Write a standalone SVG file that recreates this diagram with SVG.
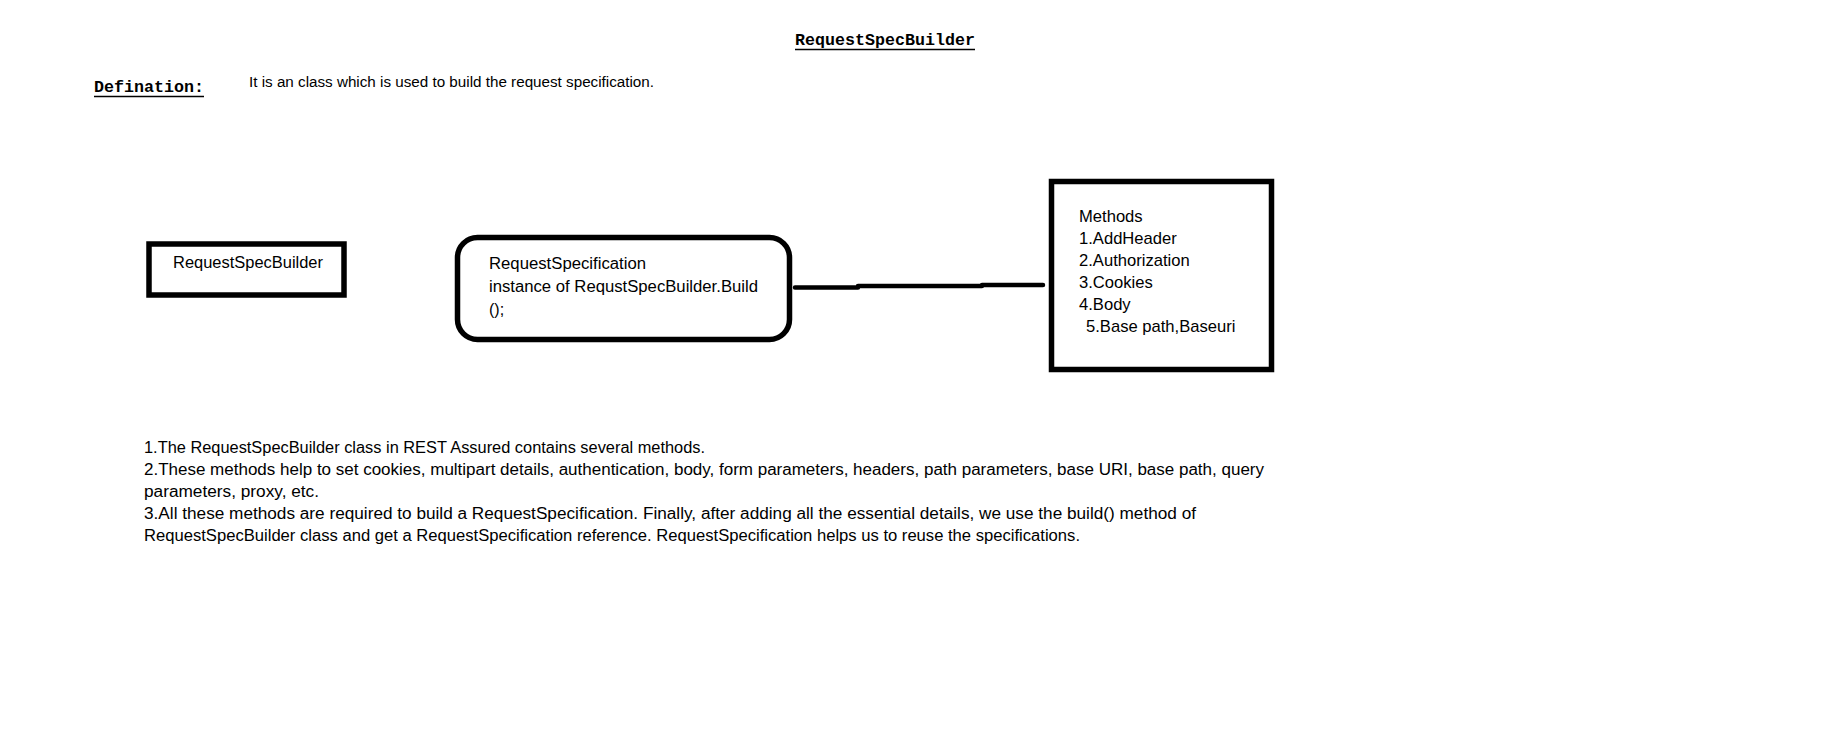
<svg xmlns="http://www.w3.org/2000/svg" width="1842" height="744" viewBox="0 0 1842 744">
<style>
.mono{font-family:"Liberation Mono","Courier New",monospace;font-weight:bold;font-size:16.7px;fill:#000}
.t{font-family:"Liberation Sans",Arial,sans-serif;font-size:16px;fill:#000}
.m{font-family:"Liberation Sans",Arial,sans-serif;font-size:16.6px;fill:#000}
.def{font-family:"Liberation Sans",Arial,sans-serif;font-size:14px;fill:#000}
.box{fill:#fff;stroke:#000;stroke-width:5.5}
.ul{stroke:#000;stroke-width:1.5}
.conn{fill:none;stroke:#000;stroke-width:4.5;stroke-linecap:round;stroke-linejoin:round}
</style>
<rect width="1842" height="744" fill="#fff"/>
<g id="title">
<text class="mono" x="795" y="45" textLength="180" lengthAdjust="spacingAndGlyphs">RequestSpecBuilder</text>
<line class="ul" x1="795" y1="49.5" x2="975" y2="49.5"/>
</g>
<g id="definition">
<text class="mono" x="94" y="92" textLength="110" lengthAdjust="spacingAndGlyphs">Defination:</text>
<line class="ul" x1="94" y1="96.5" x2="204" y2="96.5"/>
<text class="def" x="249" y="87" textLength="405" lengthAdjust="spacingAndGlyphs">It is an class which is used to build the request specification.</text>
</g>
<g id="connectors">
<path class="conn" d="M795,287.5 L858,287.5 L858,286 L982,286 L982,285 L1043,285"/>
</g>
<g id="node-builder">
<rect class="box" x="149" y="244" width="195" height="51"/>
<text class="t" x="173" y="268" textLength="150" lengthAdjust="spacingAndGlyphs">RequestSpecBuilder</text>
</g>
<g id="node-spec">
<rect class="box" x="457.5" y="237.5" width="332" height="102" rx="20" ry="20"/>
<text class="t" x="489" y="269" textLength="157" lengthAdjust="spacingAndGlyphs">RequestSpecification</text>
<text class="t" x="489" y="292" textLength="269" lengthAdjust="spacingAndGlyphs">instance of RequstSpecBuilder.Build</text>
<text class="t" x="489" y="315">();</text>
</g>
<g id="node-methods">
<rect class="box" x="1051.5" y="181.5" width="220" height="188"/>
<text class="m" x="1079" y="222">Methods</text>
<text class="m" x="1079" y="244">1.AddHeader</text>
<text class="m" x="1079" y="266">2.Authorization</text>
<text class="m" x="1079" y="288">3.Cookies</text>
<text class="m" x="1079" y="310">4.Body</text>
<text class="m" x="1086" y="332">5.Base path,Baseuri</text>
</g>
<g id="notes">
<text class="t" x="144" y="453" textLength="561" lengthAdjust="spacingAndGlyphs">1.The RequestSpecBuilder class in REST Assured contains several methods.</text>
<text class="t" x="144" y="475" textLength="1120" lengthAdjust="spacingAndGlyphs">2.These methods help to set cookies, multipart details, authentication, body, form parameters, headers, path parameters, base URI, base path, query</text>
<text class="t" x="144" y="497" textLength="175" lengthAdjust="spacingAndGlyphs">parameters, proxy, etc.</text>
<text class="t" x="144" y="519" textLength="1052" lengthAdjust="spacingAndGlyphs">3.All these methods are required to build a RequestSpecification. Finally, after adding all the essential details, we use the build() method of</text>
<text class="t" x="144" y="541" textLength="936" lengthAdjust="spacingAndGlyphs">RequestSpecBuilder class and get a RequestSpecification reference. RequestSpecification helps us to reuse the specifications.</text>
</g>
</svg>
